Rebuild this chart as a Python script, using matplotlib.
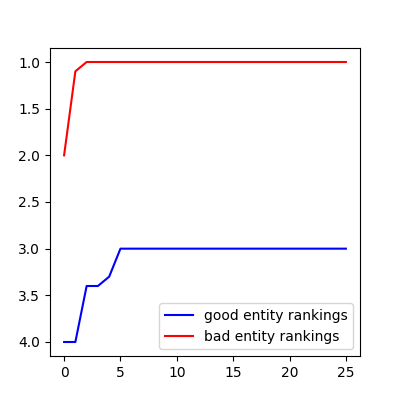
import matplotlib
matplotlib.use("Agg")
import matplotlib.pyplot as plt

steps = list(range(26))
good = [4.0, 4.0, 3.4, 3.4, 3.3, 3.0] + [3.0] * 20
bad = [2.0, 1.1, 1.0] + [1.0] * 23

fig = plt.figure(figsize=(4, 4), dpi=100)
ax = fig.add_subplot(111)
ax.plot(steps, good, color="blue", label="good entity rankings")
ax.plot(steps, bad, color="red", label="bad entity rankings")
ax.invert_yaxis()
ax.legend(loc="lower right")
fig.savefig("out.png")
